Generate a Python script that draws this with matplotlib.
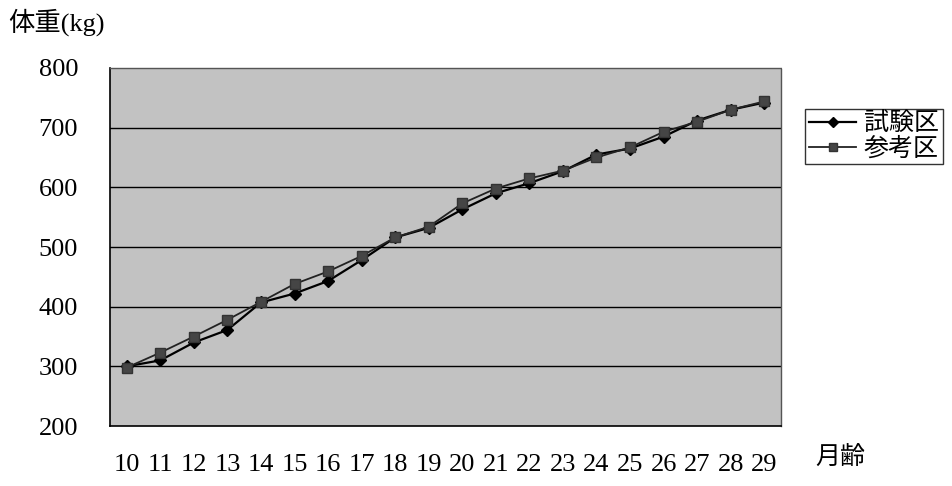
import numpy as np
import matplotlib.pyplot as plt

plt.rcParams['font.family'] = ['Liberation Serif', 'Noto Sans CJK JP']

months = [10, 11, 12, 13, 14, 15, 16, 17, 18, 19, 20, 21, 22, 23, 24, 25, 26, 27, 28, 29]
test_area = [300, 310, 340, 361, 407, 422, 443, 478, 516, 532, 563, 590, 607, 627, 655, 665, 685, 712, 730, 742]
ref_area = [298, 323, 350, 378, 408, 438, 459, 485, 516, 534, 573, 598, 615, 628, 650, 667, 693, 710, 730, 744]
yticks = [200, 300, 400, 500, 600, 700, 800]

fig = plt.figure(figsize=(9.52, 4.86), dpi=100)
ax = fig.add_axes([110/952, (486-426)/486, 671/952, 358/486])
ax.set_facecolor('#c2c2c2')

x = np.arange(len(months))
ax.plot(x, test_area, color='black', lw=1.6, marker='D', ms=6.5,
        mfc='black', mec='black', label='試験区', zorder=3)
ax.plot(x, ref_area, color='#222222', lw=1.3, marker='s', ms=7.5,
        mfc='#454545', mec='#333333', label='参考区', zorder=3)

ax.set_xlim(-0.5, len(months) - 0.5)
ax.set_ylim(200, 800)
ax.set_yticks(yticks)
ax.set_xticks(x)
ax.set_xticklabels([str(m) for m in months])
ax.tick_params(length=0, labelsize=19)
ax.tick_params(axis='y', pad=23)
ax.tick_params(axis='x', pad=20)
for y in yticks[1:-1]:
    ax.axhline(y, color='black', lw=1.0, zorder=1)

for s in ['left', 'bottom']:
    ax.spines[s].set_color('black')
    ax.spines[s].set_linewidth(1.2)
for s in ['top', 'right']:
    ax.spines[s].set_color('#555555')
    ax.spines[s].set_linestyle((0, (1, 1)))
    ax.spines[s].set_linewidth(1.0)

fig.text(8/952, 1 - 22/486, '体重(kg)', fontsize=19, va='center', ha='left')
fig.text(815/952, 1 - 458/486, '月齢', fontsize=18, va='center', ha='left')

leg = fig.legend(loc='upper left', bbox_to_anchor=(805/952, 1 - 109/486),
                 fontsize=18, frameon=True, fancybox=False, handlelength=1.9,
                 borderpad=0.15, labelspacing=0.05, handletextpad=0.3,
                 borderaxespad=0, markerscale=0.75)
leg.get_frame().set_edgecolor('black')
leg.get_frame().set_linewidth(1.0)

fig.savefig('out.png', dpi=100)
